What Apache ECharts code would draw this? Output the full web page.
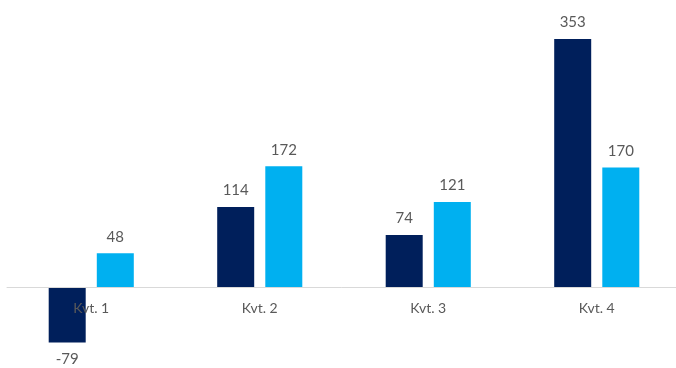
<!DOCTYPE html>
<html><head><meta charset="utf-8">
<script src="https://cdn.jsdelivr.net/npm/echarts@6/dist/echarts.min.js"></script>
<style>html,body{margin:0;padding:0;background:#fff}#c{width:676px;height:368px}</style>
</head><body><div id="c"></div>
<script>
const categories = ['Kvt. 1', 'Kvt. 2', 'Kvt. 3', 'Kvt. 4'];
const seriesA = [-79, 114, 74, 353];
const seriesB = [48, 172, 121, 170];

function toData(arr) {
  return arr.map(v => v < 0 ? { value: v, label: { position: 'bottom' } } : v);
}
const labelStyle = { show: true, position: 'top', distance: 9, color: '#595959', fontSize: 15, fontFamily: 'Lato, "Open Sans", sans-serif' };

const yMin = -100, yMax = 400;
const gridTop = 6, gridHeight = 351.25;
const zeroOffset = -gridHeight * (0 - yMin) / (yMax - yMin);

const chart = echarts.init(document.getElementById('c'));
chart.setOption({
  animation: false,
  grid: { left: 7, width: 674, top: gridTop, height: gridHeight, containLabel: false, outerBoundsMode: 'none' },
  xAxis: {
    type: 'category', data: categories, position: 'bottom', offset: zeroOffset,
    axisLine: { onZero: false, lineStyle: { color: '#d9d9d9', width: 1 } },
    axisTick: { show: false },
    axisLabel: { color: '#595959', fontSize: 14, margin: 14, fontFamily: 'Lato, "Open Sans", sans-serif' },
    z: 5
  },
  yAxis: { type: 'value', min: yMin, max: yMax, show: false, splitLine: { show: false } },
  series: [
    { type: 'bar', data: toData(seriesA), barWidth: 37, barGap: '30%', itemStyle: { color: '#001f5b' }, label: labelStyle },
    { type: 'bar', data: toData(seriesB), barWidth: 37, barGap: '30%', itemStyle: { color: '#00b0f0' }, label: labelStyle }
  ]
});
</script></body></html>
